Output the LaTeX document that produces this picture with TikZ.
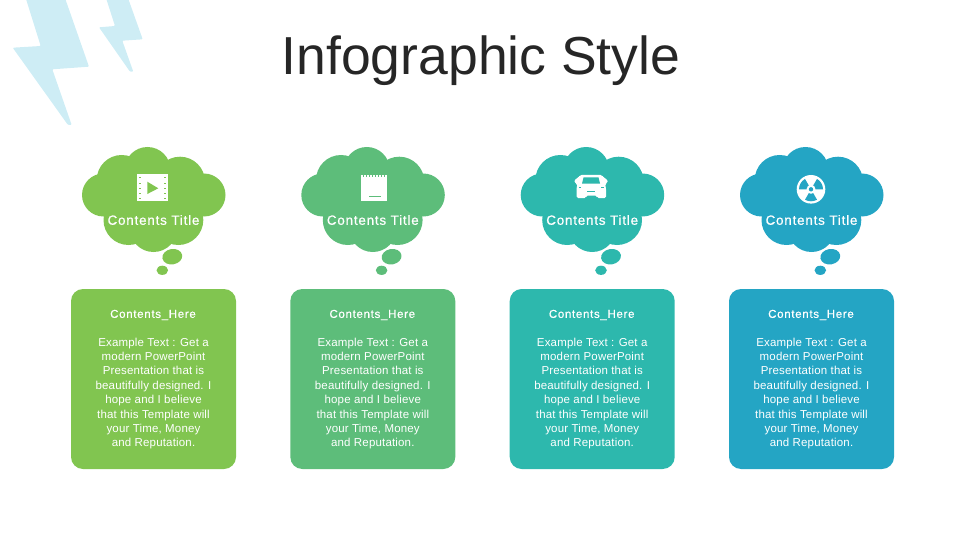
\documentclass[tikz,border=0pt]{standalone}
\usepackage{fontspec}
\setmainfont{Liberation Sans}
\newfontfamily\headfont[FakeBold=0.6,LetterSpace=6]{Liberation Sans}
\newfontfamily\bodyfont[LetterSpace=1.5]{Liberation Sans}
\definecolor{info-green}{RGB}{129, 197, 80}
\definecolor{info-mint}{RGB}{93, 189, 122}
\definecolor{info-teal}{RGB}{45, 184, 173}
\definecolor{info-blue}{RGB}{36, 165, 196}
\definecolor{info-bolt}{RGB}{206, 237, 245}
\tikzset{
  cloudtitle/.style={text=white, font=\headfont\fontsize{13.4}{14}\selectfont},
  cardhead/.style={text=white, font=\headfont\fontsize{11.5}{14}\selectfont},
  cardtext/.style={text=white, align=center, font=\bodyfont\fontsize{11.5}{14.4}\selectfont},
  pics/thought/.style={code={
    \fill (-6,-30) circle[radius=23];
    \fill (-50,-5) circle[radius=21.5];
    \fill (50.5,-5) circle[radius=21.5];
    \fill (-31.8,-20) circle[radius=25];
    \fill (26.5,-18.3) circle[radius=25];
    \fill (-25,20) circle[radius=25];
    \fill (0,28.3) circle[radius=23.7];
    \fill (24.8,20) circle[radius=25];
    \fill (0,0) ellipse[x radius=45, y radius=30];
    \fill[rotate around={10:(18.8,56.7)}] (18.8,56.7) ellipse[x radius=10, y radius=7.7];
    \fill (8.8,70.3) ellipse[x radius=5.8, y radius=4.6];
  }},
}
\begin{document}
\begin{tikzpicture}[x=1pt, y=-1pt]
  \useasboundingbox (0,0) rectangle (960,540);
  % bolts
  \fill[info-bolt, rounded corners=1pt] (25.7,-2) -- (65,-2) -- (89,66.7) -- (52.3,69.3) -- (71.7,125) -- (68,125) -- (12.7,47.7) -- (40.7,46) -- cycle;
  \fill[info-bolt, rounded corners=1pt] (106,-2) -- (128,-2) -- (142.7,39.3) -- (122.3,40.7) -- (133.3,71.7) -- (130,71.7) -- (99,27.3) -- (115,26) -- cycle;
  \node (title) at (481,60.5) {\fontsize{53.5}{60}\selectfont\color{black!85}Infographic Style};

  % clouds and cards
  \foreach \cx/\col/\nm in {153.5/info-green/a, 372.8/info-mint/b, 592.2/info-teal/c, 811.5/info-blue/d}{
    \fill[\col] pic at (\cx,200) {thought};
    \fill[\col, rounded corners=12pt] (\cx-82.5,289) rectangle (\cx+82.5,469);
    \node[cloudtitle] (title-\nm) at (\cx,220) {Contents Title};
    \node[cardhead] (head-\nm) at (\cx-0.5,315) {Contents\_Here};
    \node[cardtext] (text-\nm) at (\cx,393.5) {Example Text : Get a\\modern PowerPoint\\Presentation that is\\beautifully designed. I\\hope and I believe\\that this Template will\\your Time, Money\\and Reputation.};
  }

  % film
  \fill[white] (137.3,174.3) rectangle (167.7,200.7);
  \fill[info-green] (147.3,181.7) -- (158.3,188.3) -- (147.3,194) -- cycle;
  \foreach \py in {178,183,188,193,198}{
    \fill[info-green] (138.8,\py-0.5) rectangle (141,\py+0.5);
    \fill[info-green] (164,\py-0.5) rectangle (166.2,\py+0.5);
  }

  % notepad
  \fill[white] (360.7,175) rectangle (387.3,201);
  \foreach \px in {363,366,369,372,375,378,381,384}{
    \fill[info-mint] (\px-0.5,175) rectangle (\px+0.5,177);
  }
  \fill[info-mint] (368.5,195.7) rectangle (380.7,196.5);

  % car
  \fill[white, rounded corners=1.5pt] (578,178) -- (580,175) -- (602,175) -- (604,178) -- (607.5,179.5) -- (607.5,183) -- (605,184) -- (606,188) -- (606,198) -- (597,198) -- (597,195.7) -- (586,195.7) -- (586,198) -- (576.5,198) -- (576.5,188) -- (577.5,184) -- (574.5,183) -- (574.5,179.5) -- cycle;
  \fill[info-teal] (582,183.5) -- (583.5,177.5) -- (598.5,177.5) -- (600,183.5) -- cycle;
  \fill[info-teal] (587,191) rectangle (595,192);
  \fill[info-teal] (578.5,186.5) rectangle (581,187.5);
  \fill[info-teal] (601,186.5) rectangle (603.5,187.5);

  % radiation
  \fill[white] (811,189.3) circle[radius=14.3];
  \foreach \ang in {90,210,330}{
    \fill[info-blue] (811,189.3) -- ++(\ang-30:12) arc[start angle=\ang-30, end angle=\ang+30, radius=12] -- cycle;
  }
  \fill[white] (811,189.3) circle[radius=4.5];
  \fill[info-blue] (811,189.3) circle[radius=2.2];
\end{tikzpicture}
\end{document}
